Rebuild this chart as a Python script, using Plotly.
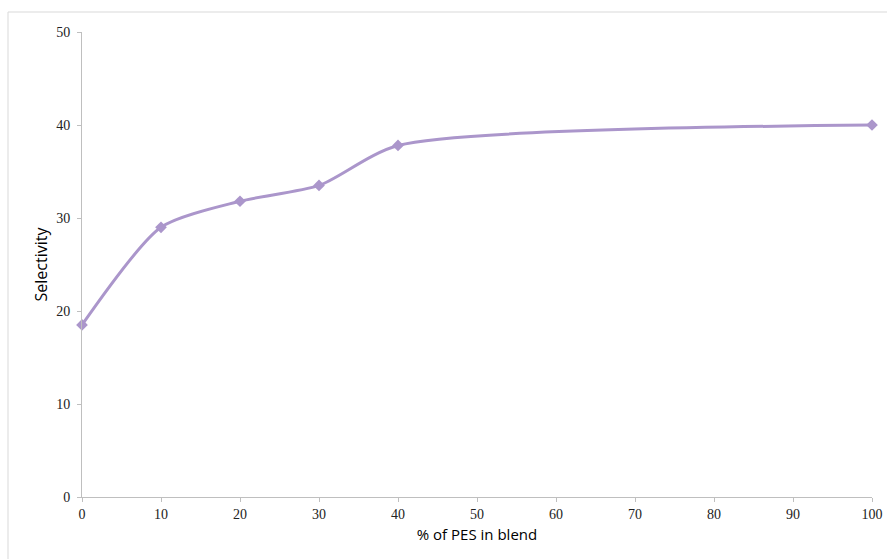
import plotly.graph_objects as go

pes_percent = [0, 10, 20, 30, 40, 100]
selectivity = [18.5, 29.0, 31.8, 33.5, 37.8, 40.0]
x_ticks = [0, 10, 20, 30, 40, 50, 60, 70, 80, 90, 100]
y_ticks = [0, 10, 20, 30, 40, 50]

line_color = "#ab96cb"

fig = go.Figure()
fig.add_trace(go.Scatter(
    x=pes_percent, y=selectivity,
    mode="lines+markers",
    line=dict(color=line_color, width=3, shape="spline", smoothing=0.7),
    marker=dict(symbol="diamond", size=9, color=line_color),
    showlegend=False,
    cliponaxis=False,
))

W, H = 887, 559
L, T = 82, 32
R = W - 872
B = H - 497
pw = W - L - R
ph = H - T - B

def sx(px):
    return (px - L) / pw

def sy(py):
    return (H - B - py) / ph

# light grey chart-area border (runs off the right and bottom edges)
fig.add_shape(type="rect", xref="paper", yref="paper",
              x0=sx(8), x1=sx(900),
              y0=sy(580), y1=sy(12),
              line=dict(color="#d9d9d9", width=1), fillcolor="rgba(0,0,0,0)",
              layer="below")

axis_common = dict(
    showgrid=False, zeroline=False, showline=True, linecolor="#bfbfbf", linewidth=1,
    ticks="outside", ticklen=4, tickcolor="#bfbfbf", tickwidth=1,
    tickfont=dict(family="Liberation Serif", size=14, color="#222222"),
    automargin=False,
)

fig.update_xaxes(range=[0, 100], tickvals=x_ticks, **axis_common,
                 title=dict(text="% of PES in blend",
                            font=dict(family="Open Sans", size=15, color="#000000"),
                            standoff=8))
fig.update_yaxes(range=[0, 50], tickvals=y_ticks, **axis_common,
                 ticklabelstandoff=4,
                 title=dict(text="Selectivity",
                            font=dict(family="Open Sans", size=16, color="#000000"),
                            standoff=4))

fig.update_layout(
    width=W, height=H,
    margin=dict(l=L, r=R, t=T, b=B),
    paper_bgcolor="white", plot_bgcolor="white",
)

fig.write_html(
    "out.html",
    config={"displayModeBar": False},
    post_script="document.body.style.margin='0';document.body.style.overflow='hidden';",
)
